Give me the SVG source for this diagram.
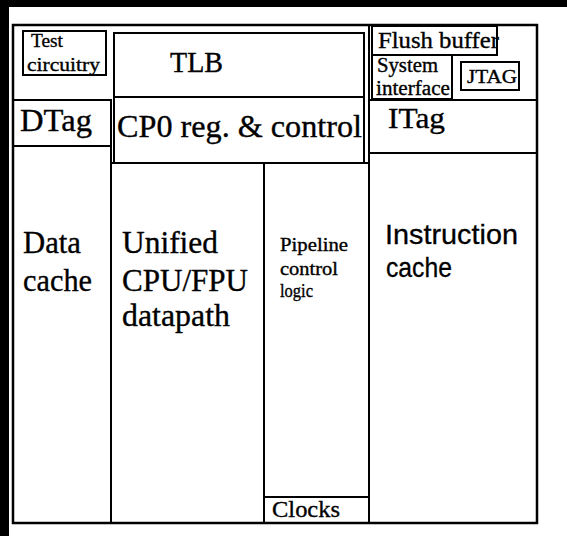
<svg xmlns="http://www.w3.org/2000/svg" width="567" height="536" viewBox="0 0 567 536">
<style>
.b{fill:none;stroke:#000;stroke-width:2}
.o{fill:none;stroke:#000;stroke-width:2.5}
.s{font-family:"Liberation Serif","Times New Roman",serif;fill:#000;stroke:#000;stroke-width:0.35}
.ss{font-family:"Liberation Sans",Arial,sans-serif;fill:#000;stroke:#000;stroke-width:0.3}
</style>
<rect width="567" height="536" fill="#fff"/>
<rect x="0" y="0" width="567" height="7" fill="#000"/>
<rect x="0" y="0" width="9" height="536" fill="#000"/>
<g id="frame"><rect class="o" x="13" y="25" width="524" height="498"/></g>
<g id="dividers">
<line class="b" x1="13" y1="100" x2="111" y2="100"/>
<line class="b" x1="111" y1="100" x2="111" y2="523"/>
<line class="b" x1="111" y1="163" x2="369" y2="163"/>
<line class="b" x1="264" y1="163" x2="264" y2="523"/>
<line class="b" x1="369" y1="25" x2="369" y2="523"/>
</g>
<g id="test-circuitry"><rect class="b" x="23" y="31" width="83" height="44"/>
<text class="s" x="31" y="47" font-size="19" textLength="32" lengthAdjust="spacingAndGlyphs">Test</text>
<text class="s" x="27" y="71" font-size="19" textLength="73" lengthAdjust="spacingAndGlyphs">circuitry</text></g>
<g id="tlb"><rect class="b" x="114" y="33" width="250" height="64"/>
<text class="s" x="170" y="72" font-size="29" textLength="53" lengthAdjust="spacingAndGlyphs">TLB</text></g>
<g id="cp0"><rect class="b" x="114" y="97" width="250" height="66"/>
<text class="s" x="117" y="137" font-size="31" textLength="245" lengthAdjust="spacingAndGlyphs">CP0 reg. &amp; control</text></g>
<g id="dtag"><rect class="b" x="13" y="100" width="98" height="46"/>
<text class="s" x="20" y="131" font-size="31" textLength="72" lengthAdjust="spacingAndGlyphs">DTag</text></g>
<g id="data-cache">
<text class="s" x="23" y="253" font-size="32" textLength="58" lengthAdjust="spacingAndGlyphs">Data</text>
<text class="s" x="23" y="291" font-size="32" textLength="69" lengthAdjust="spacingAndGlyphs">cache</text></g>
<g id="datapath">
<text class="s" x="122" y="253" font-size="32" textLength="96" lengthAdjust="spacingAndGlyphs">Unified</text>
<text class="s" x="122" y="291" font-size="32" textLength="126" lengthAdjust="spacingAndGlyphs">CPU/FPU</text>
<text class="s" x="122" y="326" font-size="32" textLength="108" lengthAdjust="spacingAndGlyphs">datapath</text></g>
<g id="pipeline">
<text class="s" x="280" y="251" font-size="18" textLength="68" lengthAdjust="spacingAndGlyphs">Pipeline</text>
<text class="s" x="280" y="275" font-size="18" textLength="58" lengthAdjust="spacingAndGlyphs">control</text>
<text class="s" x="280" y="297" font-size="18" textLength="33" lengthAdjust="spacingAndGlyphs">logic</text></g>
<g id="clocks"><rect class="b" x="264" y="497" width="105" height="26"/>
<text class="s" x="272" y="517" font-size="24" textLength="68" lengthAdjust="spacingAndGlyphs">Clocks</text></g>
<g id="flush-buffer">
<text class="s" x="378" y="48" font-size="24" textLength="121" lengthAdjust="spacingAndGlyphs">Flush buffer</text>
<rect class="b" x="372" y="26" width="125" height="29"/></g>
<g id="system-interface"><rect class="b" x="372" y="55" width="80" height="44"/>
<text class="s" x="377" y="72" font-size="20" textLength="61" lengthAdjust="spacingAndGlyphs">System</text>
<text class="s" x="376" y="95" font-size="20" textLength="74" lengthAdjust="spacingAndGlyphs">interface</text></g>
<g id="jtag"><rect class="b" x="461" y="62" width="58" height="28"/>
<text class="s" x="467" y="83" font-size="19" textLength="50" lengthAdjust="spacingAndGlyphs">JTAG</text></g>
<g id="itag"><rect class="b" x="369" y="100" width="168" height="53"/>
<text class="s" x="388" y="128" font-size="30" textLength="57" lengthAdjust="spacingAndGlyphs">ITag</text></g>
<g id="instruction-cache">
<text class="ss" x="385" y="244" font-size="28" textLength="133" lengthAdjust="spacingAndGlyphs">Instruction</text>
<text class="ss" x="386" y="277" font-size="28" textLength="66" lengthAdjust="spacingAndGlyphs">cache</text></g>
</svg>
